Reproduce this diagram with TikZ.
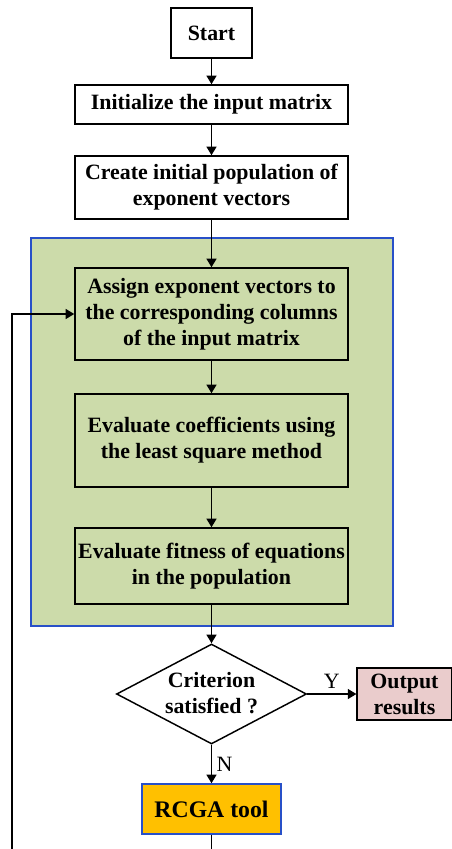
\documentclass[tikz,border=0pt]{standalone}
\usepackage{fontspec}
\setmainfont{Liberation Serif}
\usetikzlibrary{arrows.meta, shapes.geometric, positioning}
\definecolor{panelgreen}{RGB}{204,219,170}
\definecolor{panelblue}{RGB}{40,80,200}
\definecolor{outpink}{RGB}{234,204,204}
\definecolor{rcgaorange}{RGB}{255,192,0}
\begin{document}
\begin{tikzpicture}[x=0.75pt,y=-0.75pt]
        % Define styles
        \tikzset{
            stepbox/.style={draw, line width=1.1pt, align=center, inner sep=2pt,
                font=\fontsize{16.4}{19.6}\selectfont\bfseries},
            decision/.style={diamond, draw, line width=1.1pt, inner sep=0pt,
                font=\fontsize{16.4}{19.6}\selectfont\bfseries},
            flow/.style={-{Triangle[length=6.5pt,width=7.5pt]}, line width=1.1pt},
            branch/.style={font=\fontsize{16.4}{19.6}\selectfont}
        }
        \useasboundingbox (0,0) rectangle (451,849);
        % Green panel round the inner loop
        \draw[panelblue, fill=panelgreen, line width=1.1pt] (31,238) rectangle (393,626);
        % Steps
        \node[stepbox, minimum width=60.75pt, minimum height=37.5pt] (start) at (211.5,33) {Start};
        \node[stepbox, minimum width=204.75pt, minimum height=29.25pt] (init) at (211.5,104.5) {Initialize the input matrix};
        \node[stepbox, minimum width=204.75pt, minimum height=47.25pt] (create) at (211.5,187.5) {Create initial population of\\exponent vectors};
        \node[stepbox, minimum width=204.75pt, minimum height=69pt] (assign) at (211.5,314) {Assign exponent vectors to\\the corresponding columns\\of the input matrix};
        \node[stepbox, minimum width=204.75pt, minimum height=69.75pt] (coef) at (211.5,440.5) {Evaluate coefficients using\\the least square method};
        \node[stepbox, minimum width=204.75pt, minimum height=57pt] (fitness) at (211.5,566) {Evaluate fitness of equations\\in the population};
        % Decision and its two ends
        \node[decision, minimum width=142.5pt, minimum height=75pt] (crit) at (211.5,694)
            {\makebox[0pt]{\smash{\raisebox{-5pt}{\begin{tabular}{@{}c@{}}Criterion\\satisfied ?\end{tabular}}}}};
        \node[stepbox, fill=outpink, minimum width=71pt, minimum height=39pt] (output) at (404.5,694) {Output\\results};
        \node[stepbox, draw=panelblue, fill=rcgaorange, minimum width=104.25pt, minimum height=37.5pt,
            font=\fontsize{17.8}{21}\selectfont\bfseries] (rcga) at (211.5,809) {RCGA tool};
        % Loop back (runs past the lower edge)
        \coordinate (loopa) at (211.5,880);
        \coordinate (loopb) at (12,880);
        % Connectors
        \draw[flow] (start) -- (init);
        \draw[flow] (init) -- (create);
        \draw[flow] (create) -- (assign);
        \draw[flow] (assign) -- (coef);
        \draw[flow] (coef) -- (fitness);
        \draw[flow] (fitness) -- (crit);
        \draw[flow] (crit) -- node[branch, above] {Y} (output);
        \draw[flow] (crit) -- node[branch, right] {N} (rcga);
        \draw[flow] (rcga) -- (loopa) -- (loopb) |- (assign.west);
\end{tikzpicture}
\end{document}
